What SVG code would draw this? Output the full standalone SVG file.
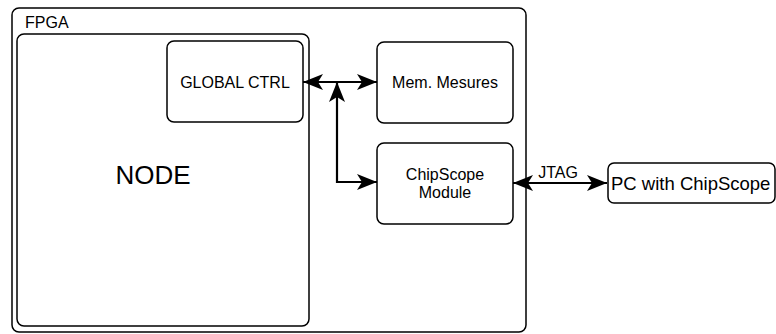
<svg xmlns="http://www.w3.org/2000/svg" width="776" height="334" viewBox="0 0 776 334">
<defs>
<marker id="ah" markerUnits="userSpaceOnUse" markerWidth="22" markerHeight="18" refX="20" refY="8" orient="auto-start-reverse" viewBox="0 0 22 18">
<path d="M0,0 L20,8 L0,16 L5,8 z" fill="#000"/>
</marker>
<style>
.box{fill:#fff;stroke:#000;stroke-width:1.5}
.t{font-family:"Liberation Sans",Arial,sans-serif;font-size:16px;fill:#000}
.c{text-anchor:middle}
.ln{fill:none;stroke:#000;stroke-width:2.2;marker-start:url(#ah);marker-end:url(#ah)}
</style>
</defs>
<rect width="776" height="334" fill="#fff"/>
<g id="fpga">
<rect class="box" x="12" y="8" width="514" height="324" rx="7"/>
<text class="t" x="25" y="28">FPGA</text>
</g>
<g id="node">
<rect class="box" x="17" y="34" width="292" height="292" rx="7"/>
<text class="t c" x="153" y="184" style="font-size:26px">NODE</text>
</g>
<g id="global-ctrl">
<rect class="box" x="167" y="41" width="136" height="81" rx="7"/>
<text class="t c" x="235" y="88">GLOBAL CTRL</text>
</g>
<g id="mem-mesures">
<rect class="box" x="377" y="42" width="136" height="81" rx="7"/>
<text class="t c" x="445" y="88">Mem. Mesures</text>
</g>
<g id="chipscope-module">
<rect class="box" x="377" y="143" width="136" height="81" rx="7"/>
<text class="t c" x="445" y="180">ChipScope</text>
<text class="t c" x="445" y="198">Module</text>
</g>
<g id="pc">
<rect class="box" x="608" y="163" width="167" height="40" rx="6"/>
<text class="t" x="611" y="190" style="font-size:18.5px">PC with ChipScope</text>
</g>
<g id="connectors">
<path class="ln" d="M303,82 H377"/>
<path class="ln" d="M337,82 V182 H377"/>
<path class="ln" d="M513,183 H607"/>
<text class="t c" x="558" y="178">JTAG</text>
</g>
</svg>
